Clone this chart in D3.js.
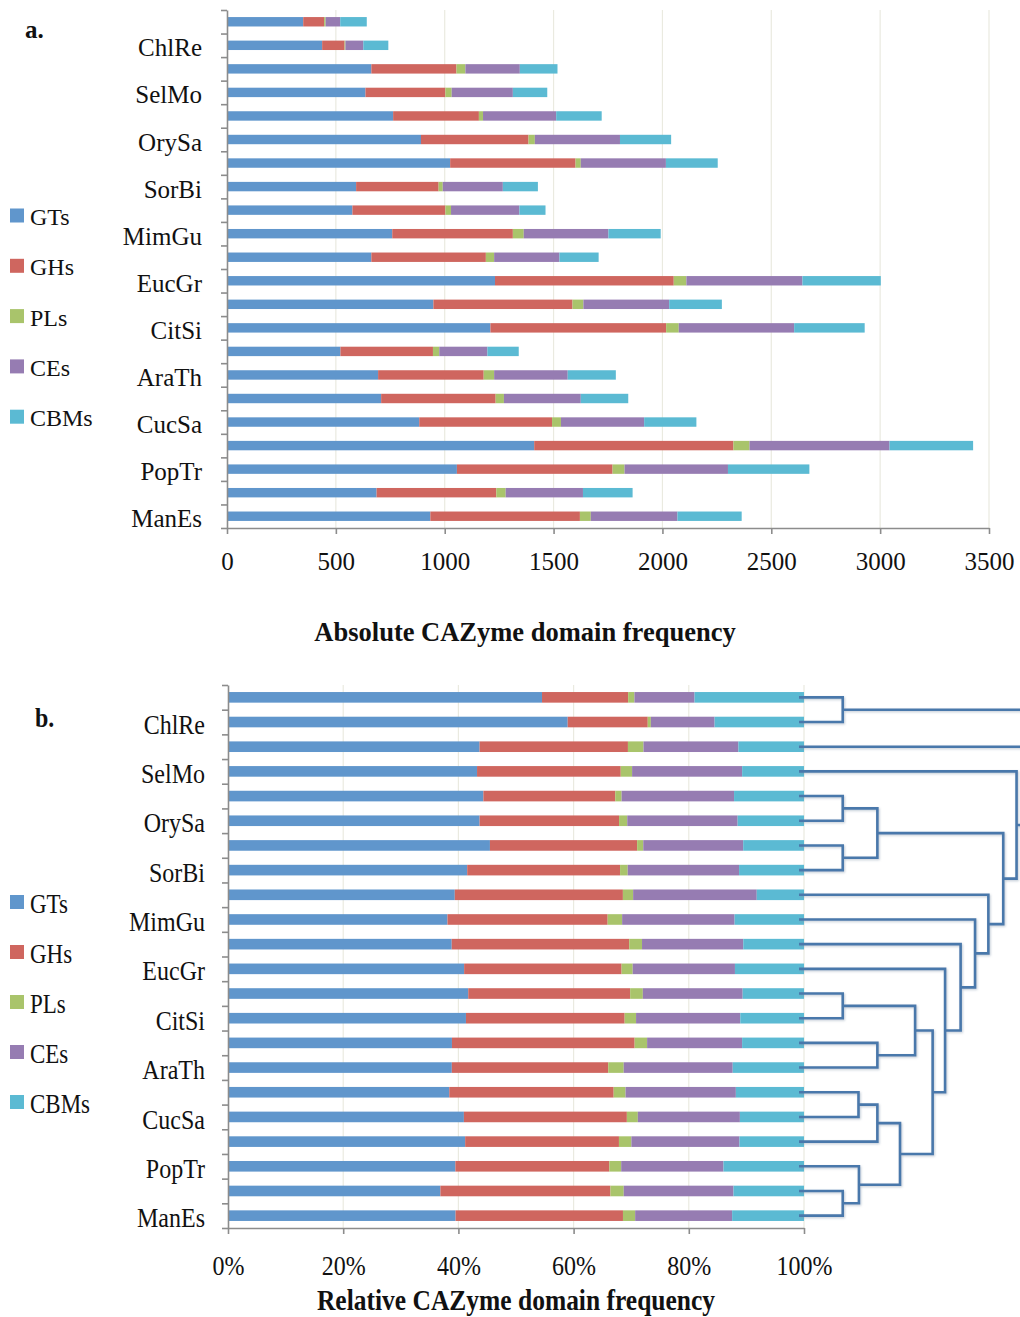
<!DOCTYPE html>
<html>
<head>
<meta charset="utf-8">
<script src="https://cdn.jsdelivr.net/npm/d3@7"></script>
<style>
  html, body { margin: 0; padding: 0; background: #fff; }
  svg { display: block; }
</style>
</head>
<body>
<script>
// Category labels (one label for every second row), top row first
const labels = ["", "ChlRe", "", "SelMo", "", "OrySa", "", "SorBi", "", "MimGu", "",
                "EucGr", "", "CitSi", "", "AraTh", "", "CucSa", "", "PopTr", "", "ManEs"];

// CAZyme domain counts per row
const GTs  = [350, 437, 663, 636, 763, 891, 1025, 593, 576, 759, 663, 1231, 948, 1210, 521, 694, 708, 883, 1411, 1056, 687, 934];
const GHs  = [96, 103, 391, 367, 394, 494, 576, 379, 427, 554, 526, 821, 639, 807, 425, 485, 526, 610, 915, 715, 550, 687];
const PLs  = [7, 4, 41, 29, 19, 29, 24, 19, 26, 50, 38, 58, 50, 58, 29, 48, 38, 41, 74, 55, 43, 50];
const CEs  = [67, 82, 250, 281, 336, 391, 391, 276, 314, 389, 300, 533, 394, 530, 221, 338, 353, 382, 643, 475, 355, 398];
const CBMs = [122, 115, 173, 158, 209, 235, 238, 161, 120, 240, 180, 360, 242, 324, 144, 221, 218, 240, 384, 374, 228, 295];

const seriesNames = ["GTs", "GHs", "PLs", "CEs", "CBMs"];
const seriesColors = ["#6096cc", "#cf665f", "#a9c46b", "#967cb2", "#5bbad3"];

// Axis ticks
const absTicks = [0, 500, 1000, 1500, 2000, 2500, 3000, 3500];
const relTicks = [0, 0.2, 0.4, 0.6, 0.8, 1.0];

// Hierarchical clustering of the rows: [childA, childB, height]
// numbers are row indices, "m#" refers to an earlier merge
const merges = [
  [0, 1, 1.97],          // m0
  [4, 5, 1.97],          // m1
  [6, 7, 1.97],          // m2
  ["m1", "m2", 3.53],    // m3
  [12, 13, 1.97],        // m4
  [14, 15, 3.53],        // m5
  ["m4", "m5", 5.23],    // m6
  [16, 17, 2.68],        // m7
  ["m7", 18, 3.53],      // m8
  [20, 21, 1.97],        // m9
  [19, "m9", 2.70],      // m10
  ["m8", "m10", 4.55],   // m11
  ["m6", "m11", 6.02],   // m12
  [11, "m12", 6.58],     // m13
  [10, "m13", 7.28],     // m14
  [9, "m14", 7.93],      // m15
  [8, "m15", 8.53],      // m16
  ["m3", "m16", 9.20],   // m17
  [3, "m17", 9.80],      // m18
  [2, "m18", 10.5],      // m19
  ["m0", "m19", 11.0]    // m20
];

const W = 1020, H = 1317;
const FONT = "'Liberation Serif', 'Times New Roman', serif";
const axisColor = "#8c8c8c";
const gridColor = "#eaeae0";

const rows = labels.map((l, i) => ({
  i, GTs: GTs[i], GHs: GHs[i], PLs: PLs[i], CEs: CEs[i], CBMs: CBMs[i]
}));
const color = d3.scaleOrdinal(seriesNames, seriesColors);

const svg = d3.select("body").append("svg")
  .attr("width", W).attr("height", H)
  .style("font-family", FONT);

svg.append("rect").attr("width", W).attr("height", H).attr("fill", "#fff");

const defs = svg.append("defs");
const shadow = defs.append("filter").attr("id", "shadow")
  .attr("x", "-5%").attr("y", "-5%").attr("width", "110%").attr("height", "110%");
shadow.append("feDropShadow").attr("dx", 1).attr("dy", 1.2)
  .attr("stdDeviation", 1).attr("flood-color", "#7a8fa6").attr("flood-opacity", 0.45);

function drawPanel(opt) {
  const g = svg.append("g");
  const x = d3.scaleLinear().domain(opt.domain).range(opt.xRange);
  const y = d3.scaleBand().domain(d3.range(rows.length)).range(opt.yRange);
  const yEdge = d3.scaleLinear().domain([0, rows.length]).range(opt.yRange);
  const sy = opt.textScale;

  // vertical gridlines
  g.append("g").selectAll("line")
    .data(opt.ticks.slice(1))
    .join("line")
    .attr("x1", d => x(d)).attr("x2", d => x(d))
    .attr("y1", opt.yRange[0]).attr("y2", opt.yRange[1])
    .attr("stroke", gridColor).attr("stroke-width", 1.2);

  // stacked bars
  const stacked = d3.stack().keys(seriesNames).offset(opt.offset)(rows);
  const bh = y.bandwidth() * opt.barFrac;
  g.append("g").selectAll("g")
    .data(stacked)
    .join("g")
    .attr("fill", d => color(d.key))
    .selectAll("rect")
    .data(d => d)
    .join("rect")
    .attr("x", d => x(d[0]))
    .attr("width", d => Math.max(0, x(d[1]) - x(d[0])))
    .attr("y", d => y(d.data.i) + (y.bandwidth() - bh) / 2)
    .attr("height", bh);

  // y axis: line with ticks between categories
  const yAxis = g.append("g")
    .attr("transform", `translate(${opt.xRange[0]},0)`)
    .call(d3.axisLeft(yEdge).tickValues(d3.range(rows.length + 1))
      .tickSize(6).tickSizeOuter(0).tickFormat(""));
  yAxis.selectAll("path,line").attr("stroke", axisColor).attr("stroke-width", 1.6);

  // y category labels
  const yLab = g.append("g")
    .attr("transform", `translate(${opt.xRange[0]},0)`)
    .call(d3.axisLeft(y).tickSize(0).tickPadding(opt.labelPad).tickFormat(i => labels[i]));
  yLab.select(".domain").remove();
  yLab.selectAll("text")
    .attr("font-family", FONT).attr("font-size", opt.fontSize)
    .attr("fill", "#111").attr("dy", opt.labelDy)
    .attr("transform", `scale(1,${sy})`);

  // x axis
  const xAxis = g.append("g")
    .attr("transform", `translate(0,${opt.yRange[1]})`)
    .call(d3.axisBottom(x).tickValues(opt.ticks).tickSize(6).tickSizeOuter(0)
      .tickPadding(opt.xPad).tickFormat(opt.fmt));
  xAxis.selectAll("path,line").attr("stroke", axisColor).attr("stroke-width", 1.6);
  xAxis.selectAll("text")
    .attr("font-family", FONT).attr("font-size", opt.fontSize).attr("fill", "#111")
    .attr("transform", `scale(1,${sy})`);

  // x axis title
  g.append("text")
    .attr("transform", `translate(${opt.titleX},${opt.titleY}) scale(1,${sy})`)
    .attr("text-anchor", "middle")
    .attr("font-weight", "bold").attr("font-size", opt.titleSize).attr("fill", "#111")
    .text(opt.title);

  // panel letter
  g.append("text")
    .attr("transform", `translate(${opt.letterX},${opt.letterY}) scale(1,${sy})`)
    .attr("font-weight", "bold").attr("font-size", opt.fontSize).attr("fill", "#111")
    .text(opt.letter);

  // legend
  const leg = g.append("g").selectAll("g")
    .data(seriesNames)
    .join("g")
    .attr("transform", (d, k) => `translate(10,${opt.legendY + k * opt.legendStep})`);
  leg.append("rect").attr("x", 0).attr("y", -7).attr("width", 14).attr("height", 14)
    .attr("fill", d => color(d));
  leg.append("text")
    .attr("transform", `translate(20,${opt.legendDy}) scale(1,${sy})`)
    .attr("font-size", opt.legendSize).attr("fill", "#111")
    .text(d => d);

  return { x, y };
}

// a. absolute counts
drawPanel({
  domain: [0, 3500], xRange: [227, 989], yRange: [10, 528],
  ticks: absTicks, fmt: d3.format("d"), offset: d3.stackOffsetNone,
  barFrac: 0.4, fontSize: 25, labelPad: 25, labelDy: "0.44em", xPad: 18,
  textScale: 1,
  title: "Absolute CAZyme domain frequency", titleX: 525, titleY: 641, titleSize: 26.5,
  letter: "a.", letterX: 25, letterY: 38,
  legendY: 215.5, legendStep: 50.3, legendDy: 9.5, legendSize: 24
});

// b. relative proportions with the row clustering
const pb = drawPanel({
  domain: [0, 1], xRange: [228, 804], yRange: [685, 1228],
  ticks: relTicks, fmt: d3.format(".0%"), offset: d3.stackOffsetExpand,
  barFrac: 0.43, fontSize: 24, labelPad: 23, labelDy: "0.42em", xPad: 18,
  textScale: 1.15,
  title: "Relative CAZyme domain frequency", titleX: 516, titleY: 1310, titleSize: 25.5,
  letter: "b.", letterX: 35, letterY: 727,
  legendY: 902, legendStep: 50, legendDy: 10.5, legendSize: 23
});

// dendrogram
const xD = d3.scaleLinear().domain([0, 10]).range([799, 1021]);
const nodes = {};
const pos = c => typeof c === "number"
  ? { x: xD(0), y: pb.y(c) + pb.y.bandwidth() / 2 }
  : nodes[c];
const segs = [];
merges.forEach((m, k) => {
  const a = pos(m[0]), b = pos(m[1]);
  const nx = xD(m[2]);
  nodes["m" + k] = { x: nx, y: (a.y + b.y) / 2 };
  segs.push(`M${a.x},${a.y}H${nx}V${b.y}H${b.x}`);
});
svg.append("g")
  .attr("filter", "url(#shadow)")
  .selectAll("path")
  .data(segs)
  .join("path")
  .attr("d", d => d)
  .attr("fill", "none")
  .attr("stroke", "#4a78ab")
  .attr("stroke-width", 2.6)
  .attr("stroke-linejoin", "miter");
</script>
</body>
</html>
